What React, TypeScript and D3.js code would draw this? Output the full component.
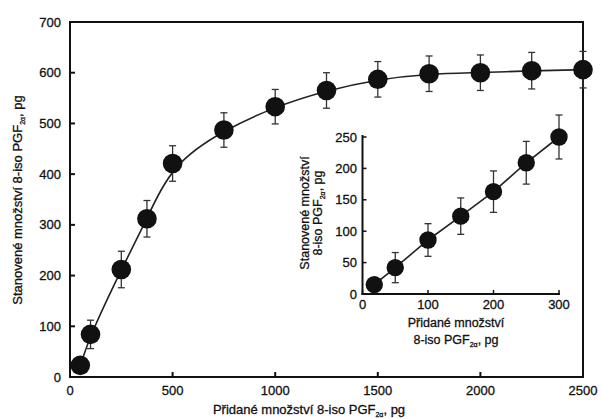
import React from "react";
import * as d3 from "d3";

const mainX = [50, 100, 250, 375, 500, 750, 1000, 1250, 1500, 1750, 2000, 2250, 2500];
const mainY = [23, 84, 212, 312, 421, 487, 533, 565, 587, 598, 600, 604, 606];
const mainErr = [10, 28, 36, 36, 35, 34, 34, 35, 35, 35, 35, 36, 36];
const mainXTicks = [0, 500, 1000, 1500, 2000, 2500];
const mainYTicks = [0, 100, 200, 300, 400, 500, 600, 700];

const insetX = [18, 50, 100, 150, 200, 250, 300];
const insetY = [15, 42, 86, 124, 163, 209, 250];
const insetErr = [8, 24, 26, 29, 33, 34, 35];
const insetXTicks = [0, 100, 200, 300];
const insetYTicks = [0, 50, 100, 150, 200, 250];

const FONT = "Liberation Sans, Arial, sans-serif";
const INK = "#111";

function LabelPGF({ after }: { after: string }) {
  return (
    <>
      <tspan>8-iso PGF</tspan>
      <tspan fontSize={7} dy={3}>2α</tspan>
      <tspan dy={-3}>{after}</tspan>
    </>
  );
}

export default function App() {
  const W = 601, H = 419;
  const x = d3.scaleLinear().domain([0, 2500]).range([70, 583]);
  const y = d3.scaleLinear().domain([0, 700]).range([377, 22]);
  const xi = d3.scaleLinear().domain([0, 300]).range([362.5, 559]);
  const yi = d3.scaleLinear().domain([0, 250]).range([294, 137]);

  const mainPts = mainX.map((v, i) => [x(v), y(mainY[i])] as [number, number]);
  const mainLine = d3.line().curve(d3.curveBasis)(mainPts) || "";
  const insetPts = insetX.map((v, i) => [xi(v), yi(insetY[i])] as [number, number]);
  const insetLine = d3.line()(insetPts) || "";

  const cap = 3.5;
  const txt = { fill: INK, stroke: INK, strokeWidth: 0.3 };
  return (
    <svg width={W} height={H} style={{ position: "absolute", left: 0, top: 0, background: "#fff" }} fontFamily={FONT}>
      <rect width={W} height={H} fill="#fff" />
      <rect x={70} y={22} width={513} height={355} fill="none" stroke={INK} strokeWidth={2} />
      {mainXTicks.map((t) => (
        <g key={"mx" + t}>
          <line x1={x(t)} x2={x(t)} y1={377} y2={372} stroke={INK} strokeWidth={2} />
          <text x={x(t)} y={395} textAnchor="middle" fontSize={13} {...txt}>{t}</text>
        </g>
      ))}
      {mainYTicks.map((t) => (
        <g key={"my" + t}>
          <line x1={70} x2={75} y1={y(t)} y2={y(t)} stroke={INK} strokeWidth={2} />
          <text x={61} y={y(t) + 4.5} textAnchor="end" fontSize={13} {...txt}>{t}</text>
        </g>
      ))}
      <path d={mainLine} fill="none" stroke="#222" strokeWidth={1.6} />
      {mainPts.map(([px, py], i) => {
        const t = y(mainY[i] + mainErr[i]);
        const b = y(mainY[i] - mainErr[i]);
        return (
          <g key={"mp" + i}>
            <line x1={px} x2={px} y1={t} y2={b} stroke="#333" strokeWidth={1.3} />
            <line x1={px - cap} x2={px + cap} y1={t} y2={t} stroke="#333" strokeWidth={1.3} />
            <line x1={px - cap} x2={px + cap} y1={b} y2={b} stroke="#333" strokeWidth={1.3} />
            <circle cx={px} cy={py} r={9.8} fill="#111" />
          </g>
        );
      })}
      <text x={309} y={414} textAnchor="middle" fontSize={13} {...txt}>
        <tspan>Přidané množství </tspan>
        <LabelPGF after=", pg" />
      </text>
      <text transform={`translate(22,200) rotate(-90)`} textAnchor="middle" fontSize={13} {...txt}>
        <tspan>Stanovené množství </tspan>
        <LabelPGF after=", pg" />
      </text>

      {/* inset */}
      <line x1={362.5} x2={362.5} y1={135} y2={295} stroke={INK} strokeWidth={2} />
      <line x1={361.5} x2={560} y1={294} y2={294} stroke={INK} strokeWidth={2} />
      {insetXTicks.map((t) => (
        <g key={"ix" + t}>
          <line x1={xi(t)} x2={xi(t)} y1={294} y2={290} stroke={INK} strokeWidth={1.5} />
          <text x={xi(t)} y={308.5} textAnchor="middle" fontSize={13} {...txt}>{t}</text>
        </g>
      ))}
      {insetYTicks.map((t) => (
        <g key={"iy" + t}>
          <line x1={362.5} x2={366.5} y1={yi(t)} y2={yi(t)} stroke={INK} strokeWidth={1.5} />
          <text x={357} y={yi(t) + 4.5} textAnchor="end" fontSize={13} {...txt}>{t}</text>
        </g>
      ))}
      <path d={insetLine} fill="none" stroke="#222" strokeWidth={1.6} />
      {insetPts.map(([px, py], i) => {
        const t = yi(insetY[i] + insetErr[i]);
        const b = yi(insetY[i] - insetErr[i]);
        return (
          <g key={"ip" + i}>
            <line x1={px} x2={px} y1={t} y2={b} stroke="#333" strokeWidth={1.3} />
            <line x1={px - cap} x2={px + cap} y1={t} y2={t} stroke="#333" strokeWidth={1.3} />
            <line x1={px - cap} x2={px + cap} y1={b} y2={b} stroke="#333" strokeWidth={1.3} />
            <circle cx={px} cy={py} r={8.7} fill="#111" />
          </g>
        );
      })}
      <text x={456} y={327} textAnchor="middle" fontSize={12.5} {...txt}>Přidané množství</text>
      <text x={456} y={344} textAnchor="middle" fontSize={12.5} {...txt}>
        <LabelPGF after=", pg" />
      </text>
      <text transform={`translate(309,213) rotate(-90)`} textAnchor="middle" fontSize={12.5} {...txt}>Stanovené množství</text>
      <text transform={`translate(322,213) rotate(-90)`} textAnchor="middle" fontSize={12.5} {...txt}>
        <LabelPGF after=", pg" />
      </text>
    </svg>
  );
}
